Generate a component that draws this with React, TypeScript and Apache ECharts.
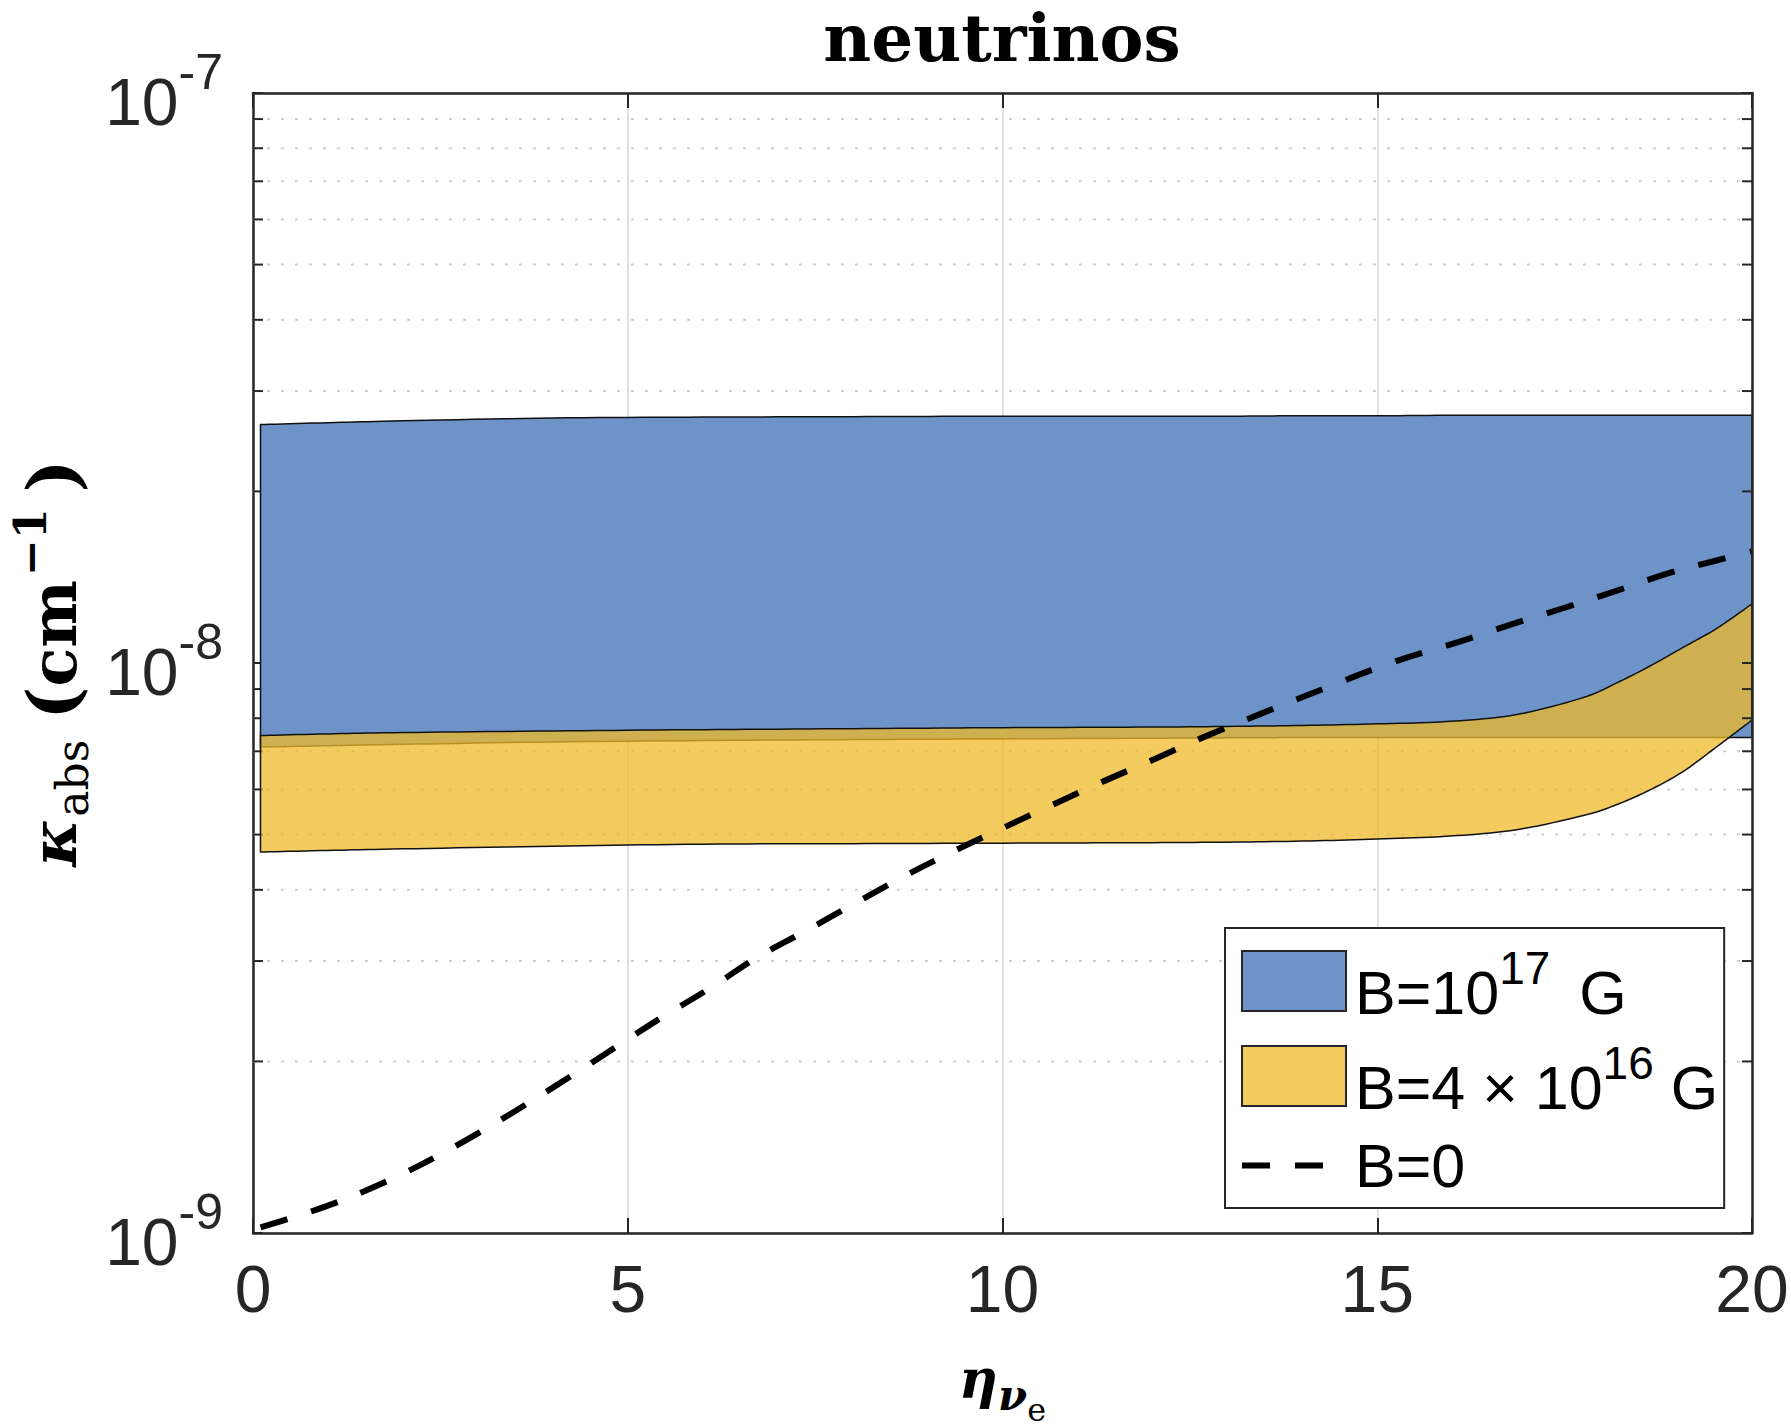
import { useEffect, useRef } from 'react'
import * as echarts from 'echarts'

// η_νe sampling of the two shaded bands
const ETA_BAND = [0.1, 1, 2, 4, 6, 8, 10, 12, 13, 14, 15, 15.97, 16.86, 17.75, 18.19, 18.64, 19.08, 19.53, 20]

// κ_abs (cm^-1), B = 10^17 G band
const B17_LOWER = [
  7.12e-9, 7.16e-9, 7.2e-9, 7.27e-9, 7.31e-9, 7.34e-9, 7.36e-9, 7.38e-9, 7.39e-9, 7.4e-9,
  7.4e-9, 7.4e-9, 7.4e-9, 7.4e-9, 7.4e-9, 7.4e-9, 7.4e-9, 7.4e-9, 7.4e-9,
]
const B17_UPPER = [
  2.62e-8, 2.64e-8, 2.66e-8, 2.69e-8, 2.7e-8, 2.705e-8, 2.71e-8, 2.71e-8, 2.71e-8, 2.715e-8,
  2.715e-8, 2.72e-8, 2.72e-8, 2.72e-8, 2.72e-8, 2.72e-8, 2.72e-8, 2.72e-8, 2.72e-8,
]

// κ_abs (cm^-1), B = 4x10^16 G band
const B4_LOWER = [
  4.66e-9, 4.69e-9, 4.72e-9, 4.77e-9, 4.81e-9, 4.82e-9, 4.83e-9, 4.84e-9, 4.85e-9, 4.87e-9,
  4.91e-9, 4.97e-9, 5.1e-9, 5.4e-9, 5.64e-9, 5.99e-9, 6.45e-9, 7.13e-9, 7.94e-9,
]
const B4_UPPER = [
  7.46e-9, 7.51e-9, 7.55e-9, 7.6e-9, 7.64e-9, 7.67e-9, 7.7e-9, 7.72e-9, 7.74e-9, 7.77e-9,
  7.82e-9, 7.9e-9, 8.12e-9, 8.7e-9, 9.22e-9, 9.88e-9, 1.065e-8, 1.15e-8, 1.27e-8,
]

// B = 0 curve
const ETA_LINE = [
  0.1, 0.5, 1, 1.5, 2, 2.5, 3, 3.5, 4, 4.5, 5, 5.5, 6.1, 6.72, 7.34, 7.99, 8.65, 9.3, 9.97,
  10.63, 11.3, 11.97, 12.66, 13.5, 14.3, 15.2, 16.1, 16.8, 17.5, 18.2, 18.91, 19.5, 20,
]
const KAPPA_B0 = [
  1.023e-9, 1.062e-9, 1.117e-9, 1.186e-9, 1.271e-9, 1.374e-9, 1.496e-9, 1.637e-9, 1.799e-9, 1.982e-9, 2.188e-9,
  2.41e-9, 2.69e-9, 3.04e-9, 3.37e-9, 3.76e-9, 4.2e-9, 4.64e-9, 5.11e-9,
  5.61e-9, 6.16e-9, 6.73e-9, 7.39e-9, 8.2e-9, 9.03e-9, 1.002e-8, 1.09e-8, 1.17e-8, 1.25e-8,
  1.34e-8, 1.44e-8, 1.51e-8, 1.57e-8,
]

// log-axis minor ticks / dotted grid
const MINOR_Y = [
  2e-9, 3e-9, 4e-9, 5e-9, 6e-9, 7e-9, 8e-9, 9e-9,
  2e-8, 3e-8, 4e-8, 5e-8, 6e-8, 7e-8, 8e-8, 9e-8,
]

const X_MIN = 0
const X_MAX = 20
const Y_MIN = 1e-9
const Y_MAX = 1e-7

const NAMES = ['B=10^17 G', 'B=4x10^16 G', 'B=0']
const LEGEND_TEXT: Record<string, string> = {
  'B=10^17 G': '{m|B=10}{s|17}{g| G}',
  'B=4x10^16 G': '{m|B=4 × 10}{s|16}{m| G}',
  'B=0': '{z|B=0}',
}

const BLUE = '#6e93c9'
const YELLOW = 'rgba(239, 185, 40, 0.75)'
const EDGE = '#111111'
const AXIS = '#262626'
const GRID_MAJOR = '#e2e2e2'
const GRID_MINOR = '#cfcfcf'
const SANS = '"Liberation Sans", Arial, sans-serif'
const SERIF = '"DejaVu Serif", serif'

// Catmull-Rom through screen points, so the band edges come out as smooth curves
function smoothChain(pts: number[][], steps = 10): number[][] {
  const out: number[][] = []
  const n = pts.length
  for (let i = 0; i < n - 1; i++) {
    const p0 = pts[Math.max(i - 1, 0)]
    const p1 = pts[i]
    const p2 = pts[i + 1]
    const p3 = pts[Math.min(i + 2, n - 1)]
    for (let s = 0; s < steps; s++) {
      const t = s / steps
      const t2 = t * t
      const t3 = t2 * t
      out.push(
        [0, 1].map(
          (k) =>
            0.5 *
            (2 * p1[k] +
              (p2[k] - p0[k]) * t +
              (2 * p0[k] - 5 * p1[k] + 4 * p2[k] - p3[k]) * t2 +
              (3 * p1[k] - p0[k] - 3 * p2[k] + p3[k]) * t3),
        ),
      )
    }
  }
  out.push(pts[n - 1])
  return out
}

function band(name: string, lower: number[], upper: number[], fill: string) {
  return {
    type: 'custom',
    name,
    coordinateSystem: 'cartesian2d',
    xAxisIndex: 0,
    yAxisIndex: 0,
    z: 2,
    silent: true,
    itemStyle: { color: fill },
    data: ETA_BAND.map((x, i) => [x, lower[i], upper[i]]),
    encode: { x: 0, y: [1, 2] },
    renderItem: (params: any, api: any) => {
      if (params.dataIndex !== 0) return null
      const top = smoothChain(ETA_BAND.map((x, i) => api.coord([x, upper[i]])))
      const bottom = smoothChain(ETA_BAND.map((x, i) => api.coord([x, lower[i]]))).reverse()
      return {
        type: 'polygon',
        shape: { points: top.concat(bottom) },
        style: { fill, stroke: EDGE, lineWidth: 1.5 },
      }
    },
  }
}

function buildOption(): any {
  const xBase = {
    type: 'value',
    min: X_MIN,
    max: X_MAX,
    interval: 5,
    axisLine: { show: true, onZero: false, lineStyle: { color: AXIS, width: 2.5 } },
    axisTick: { show: true, inside: true, length: 15, lineStyle: { color: AXIS, width: 2 } },
  }
  const yBase = {
    type: 'log',
    logBase: 10,
    min: Y_MIN,
    max: Y_MAX,
    axisLine: { show: true, onZero: false, lineStyle: { color: AXIS, width: 2.5 } },
    axisTick: { show: true, inside: true, length: 10, lineStyle: { color: AXIS, width: 2 } },
  }
  const serifTok = { fontFamily: SERIF, color: '#000', verticalAlign: 'bottom' }

  return {
    animation: false,
    backgroundColor: '#ffffff',
    textStyle: { fontFamily: SANS },
    grid: { left: 253, top: 93, width: 1499, height: 1140, containLabel: false, outerBoundsMode: 'none' },
    graphic: [
      {
        type: 'text',
        x: 1002,
        y: 38,
        style: {
          text: 'neutrinos',
          fill: '#000',
          font: `bold 66px ${SERIF}`,
          textAlign: 'center',
          textVerticalAlign: 'middle',
          align: 'center',
          verticalAlign: 'middle',
        },
      },
    ],
    xAxis: [
      {
        ...xBase,
        position: 'bottom',
        z: 5,
        splitLine: { show: false },
        axisLabel: { show: true, margin: 23, fontSize: 66, color: AXIS, fontFamily: SANS },
        name: '{eta|η}{nu|ν}{e|e}',
        nameLocation: 'middle',
        nameGap: 119,
        nameTextStyle: {
          color: '#000',
          rich: {
            eta: { ...serifTok, fontWeight: 'bold', fontStyle: 'italic', fontSize: 54, height: 54, lineHeight: 74, verticalAlign: 'top' },
            nu: { ...serifTok, fontWeight: 'bold', fontStyle: 'italic', fontSize: 42, height: 61 },
            e: { ...serifTok, fontSize: 32, height: 33 },
          },
        },
      },
      {
        ...xBase,
        position: 'top',
        z: 0,
        axisLabel: { show: false },
        splitLine: { show: true, lineStyle: { color: GRID_MAJOR, width: 2 } },
      },
    ],
    yAxis: [
      {
        ...yBase,
        position: 'left',
        z: 0,
        splitLine: { show: true, lineStyle: { color: GRID_MAJOR, width: 2 } },
        axisLabel: {
          show: true,
          margin: 30,
          formatter: (v: number) => `{b|10}{s|${Math.round(Math.log10(v))}}`,
          rich: {
            b: { fontFamily: SANS, fontSize: 66, color: AXIS, lineHeight: 92, height: 74, verticalAlign: 'bottom' },
            s: { fontFamily: SANS, fontSize: 50, color: AXIS, height: 50, verticalAlign: 'top' },
          },
        },
        name: '{k|κ}{sub|abs}{p1|(}{m|cm}{sup|−1}{p2|)}',
        nameLocation: 'middle',
        nameRotate: 90,
        nameGap: 162,
        nameTextStyle: {
          color: '#000',
          rich: {
            k: { ...serifTok, fontWeight: 'bold', fontStyle: 'italic', fontSize: 64, height: 68, lineHeight: 76 },
            sub: { ...serifTok, fontSize: 44, height: 30, padding: [0, 0, 0, 2] },
            p1: { ...serifTok, fontWeight: 'bold', fontSize: 70, height: 69, padding: [0, 0, 0, 20] },
            m: { ...serifTok, fontWeight: 'bold', fontSize: 64, height: 68 },
            sup: { ...serifTok, fontWeight: 'bold', fontSize: 44, height: 38, verticalAlign: 'top', padding: [0, 0, 0, 4] },
            p2: { ...serifTok, fontWeight: 'bold', fontSize: 70, height: 69, padding: [0, 0, 0, 16] },
          },
        },
      },
      {
        ...yBase,
        position: 'right',
        z: 5,
        axisLabel: { show: false },
        splitLine: { show: false },
      },
    ],
    legend: {
      orient: 'vertical',
      left: 1225,
      top: 928,
      z: 10,
      selectedMode: false,
      backgroundColor: '#ffffff',
      borderColor: AXIS,
      borderWidth: 2,
      borderRadius: 0,
      padding: [17, 6, 12, 14],
      itemGap: 15,
      itemWidth: 104,
      itemHeight: 60,
      lineStyle: { width: 6 },
      data: [
        { name: NAMES[0], icon: 'rect', itemStyle: { color: BLUE, borderColor: AXIS, borderWidth: 2 } },
        { name: NAMES[1], icon: 'rect', itemStyle: { color: YELLOW, borderColor: AXIS, borderWidth: 2 } },
        { name: NAMES[2], itemStyle: { opacity: 0 } },
      ],
      formatter: (name: string) => LEGEND_TEXT[name] ?? name,
      textStyle: {
        color: '#000',
        fontFamily: SANS,
        fontSize: 61,
        padding: [0, 0, 0, 4],
        rich: {
          m: { fontFamily: SANS, fontSize: 61, color: '#000', lineHeight: 88, height: 64, verticalAlign: 'bottom' },
          g: { fontFamily: SANS, fontSize: 61, color: '#000', height: 64, verticalAlign: 'bottom', padding: [0, 0, 0, 12] },
          s: { fontFamily: SANS, fontSize: 46, color: '#000', height: 62, verticalAlign: 'top' },
          z: { fontFamily: SANS, fontSize: 61, color: '#000', lineHeight: 62 },
        },
      },
    },
    series: [
      // dotted minor grid + left minor ticks (under the data)
      {
        type: 'custom',
        coordinateSystem: 'cartesian2d',
        xAxisIndex: 0,
        yAxisIndex: 0,
        z: 1,
        silent: true,
        data: MINOR_Y.map((v) => [X_MIN, v]),
        encode: { x: 0, y: 1 },
        renderItem: (_p: any, api: any) => {
          const v = api.value(1)
          const a = api.coord([X_MIN, v])
          const b = api.coord([X_MAX, v])
          return {
            type: 'group',
            children: [
              { type: 'line', shape: { x1: a[0], y1: a[1], x2: b[0], y2: b[1] }, style: { stroke: GRID_MINOR, lineWidth: 2, lineDash: [3, 11] } },
              { type: 'line', shape: { x1: a[0], y1: a[1], x2: a[0] + 10, y2: a[1] }, style: { stroke: AXIS, lineWidth: 2 } },
            ],
          }
        },
      },
      band(NAMES[0], B17_LOWER, B17_UPPER, BLUE),
      band(NAMES[1], B4_LOWER, B4_UPPER, YELLOW),
      {
        type: 'line',
        name: NAMES[2],
        xAxisIndex: 0,
        yAxisIndex: 0,
        z: 3,
        symbol: 'none',
        showSymbol: false,
        silent: true,
        smooth: 0.4,
        data: ETA_LINE.map((x, i) => [x, KAPPA_B0[i]]),
        lineStyle: { color: '#000', width: 6, type: [28, 25], cap: 'butt' },
        itemStyle: { color: '#000' },
      },
      // right-side minor ticks (over the data)
      {
        type: 'custom',
        coordinateSystem: 'cartesian2d',
        xAxisIndex: 0,
        yAxisIndex: 0,
        z: 5,
        silent: true,
        data: MINOR_Y.map((v) => [X_MAX, v]),
        encode: { x: 0, y: 1 },
        renderItem: (_p: any, api: any) => {
          const b = api.coord([X_MAX, api.value(1)])
          return {
            type: 'line',
            shape: { x1: b[0] - 10, y1: b[1], x2: b[0], y2: b[1] },
            style: { stroke: AXIS, lineWidth: 2 },
          }
        },
      },
    ],
  }
}

export default function App() {
  const chartRef = useRef<HTMLDivElement>(null)

  useEffect(() => {
    if (!chartRef.current) return
    const chart = echarts.init(chartRef.current, undefined, { renderer: 'svg' })
    chart.setOption(buildOption())
    return () => chart.dispose()
  }, [])

  return (
    <div
      ref={chartRef}
      style={{ position: 'fixed', left: 0, top: 0, width: 1791, height: 1428, background: '#fff' }}
    />
  )
}
